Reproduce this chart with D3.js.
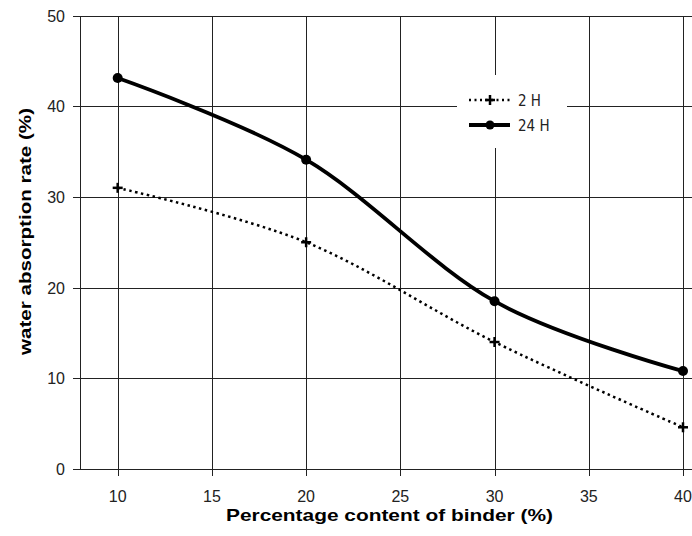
<!DOCTYPE html>
<html>
<head>
<meta charset="utf-8">
<script src="https://cdn.jsdelivr.net/npm/d3@7"></script>
<style>
  body { margin: 0; background: #fff; }
  svg { display: block; }
</style>
</head>
<body>
<script>
'use strict';

let binder = [10, 20, 30, 40];
let twoHours = [31.0, 25.0, 14.0, 4.6];
let dayHours = [43.1, 34.1, 18.5, 10.8];
let xTicks = [10, 15, 20, 25, 30, 35, 40];
let yTicks = [0, 10, 20, 30, 40, 50];

let width = 692;
let height = 536;
let font = 'Arial, "Liberation Sans", sans-serif';

let svg = d3.select('body').append('svg')
  .attr('width', width)
  .attr('height', height);

let xScale = d3.scaleLinear().domain([8, 40]).range([80, 683]);
let yScale = d3.scaleLinear().domain([0, 50]).range([469, 15.5]);

// grid
let grid = svg.append('g').attr('stroke', '#222').attr('stroke-width', 1).attr('shape-rendering', 'crispEdges');
grid.selectAll('.hg').data(yTicks)
  .enter().append('line')
  .attr('x1', 73).attr('x2', width)
  .attr('y1', d => Math.round(yScale(d)) + 0.5)
  .attr('y2', d => Math.round(yScale(d)) + 0.5);
grid.selectAll('.vg').data(xTicks)
  .enter().append('line')
  .attr('x1', d => Math.round(xScale(d)) + 0.5)
  .attr('x2', d => Math.round(xScale(d)) + 0.5)
  .attr('y1', Math.round(yScale(50))).attr('y2', 476);
grid.append('line')
  .attr('x1', 80.5).attr('x2', 80.5)
  .attr('y1', Math.round(yScale(50))).attr('y2', 470);

// tick labels
svg.append('g').selectAll('text').data(yTicks)
  .enter().append('text')
  .attr('x', 65)
  .attr('y', d => yScale(d) + 6)
  .attr('text-anchor', 'end')
  .style('font-family', font)
  .style('font-size', '16px')
  .attr('fill', '#222')
  .text(d => d);

svg.append('g').selectAll('text').data(xTicks)
  .enter().append('text')
  .attr('x', d => xScale(d))
  .attr('y', 502)
  .attr('text-anchor', 'middle')
  .style('font-family', font)
  .style('font-size', '16px')
  .attr('fill', '#222')
  .text(d => d);

// axis titles
svg.append('text')
  .attr('x', 226).attr('y', 521)
  .attr('textLength', 327)
  .attr('lengthAdjust', 'spacingAndGlyphs')
  .style('font-family', font)
  .style('font-size', '17px')
  .style('font-weight', 'bold')
  .text('Percentage content of binder (%)');

svg.append('text')
  .attr('transform', 'translate(31, 355)rotate(-90)')
  .attr('textLength', 247)
  .attr('lengthAdjust', 'spacingAndGlyphs')
  .style('font-family', font)
  .style('font-size', '17px')
  .style('font-weight', 'bold')
  .text('water absorption rate (%)');

// series
let line = d3.line()
  .x((d, i) => xScale(binder[i]))
  .y(d => yScale(d))
  .curve(d3.curveCatmullRom.alpha(0));

svg.append('path')
  .datum(twoHours)
  .attr('d', line)
  .attr('fill', 'none')
  .attr('stroke', '#000')
  .attr('stroke-width', 2.5)
  .attr('stroke-dasharray', '2.5 3.5');

svg.append('path')
  .datum(dayHours)
  .attr('d', line)
  .attr('fill', 'none')
  .attr('stroke', '#000')
  .attr('stroke-width', 3.8);

svg.selectAll('.p2').data(twoHours)
  .enter().append('g')
  .attr('transform', (d, i) => 'translate(' + xScale(binder[i]) + ',' + yScale(d) + ')')
  .each(function() {
    let g = d3.select(this);
    g.append('line').attr('x1', -5).attr('x2', 5).attr('stroke', '#000').attr('stroke-width', 2.5);
    g.append('line').attr('y1', -5).attr('y2', 5).attr('stroke', '#000').attr('stroke-width', 2.5);
  });

svg.selectAll('.p24').data(dayHours)
  .enter().append('circle')
  .attr('cx', (d, i) => xScale(binder[i]))
  .attr('cy', d => yScale(d))
  .attr('r', 5)
  .attr('fill', '#000');

// legend
let legend = svg.append('g');
legend.append('rect')
  .attr('x', 457).attr('y', 75)
  .attr('width', 110).attr('height', 73)
  .attr('fill', '#fff');

let legendRows = [
  { name: '2 H', y: 100, dash: '2 3.5', w: 2.5, mark: 'plus' },
  { name: '24 H', y: 125, dash: null, w: 3.8, mark: 'circle' }
];
legendRows.forEach(function(r) {
  legend.append('line')
    .attr('x1', 469).attr('x2', 510)
    .attr('y1', r.y).attr('y2', r.y)
    .attr('stroke', '#000')
    .attr('stroke-width', r.w)
    .attr('stroke-dasharray', r.dash);
  if (r.mark === 'plus') {
    legend.append('line').attr('x1', 485).attr('x2', 495).attr('y1', r.y).attr('y2', r.y).attr('stroke', '#000').attr('stroke-width', 2.5);
    legend.append('line').attr('x1', 490).attr('x2', 490).attr('y1', r.y - 5).attr('y2', r.y + 5).attr('stroke', '#000').attr('stroke-width', 2.5);
  } else {
    legend.append('circle').attr('cx', 490).attr('cy', r.y).attr('r', 4.5).attr('fill', '#000');
  }
  legend.append('text')
    .attr('x', 518).attr('y', r.y + 6)
    .style('font-family', '"DejaVu Sans Condensed", "DejaVu Sans", sans-serif')
    .style('font-size', '15px')
    .attr('fill', '#222')
    .text(r.name);
});
</script>
</body>
</html>
